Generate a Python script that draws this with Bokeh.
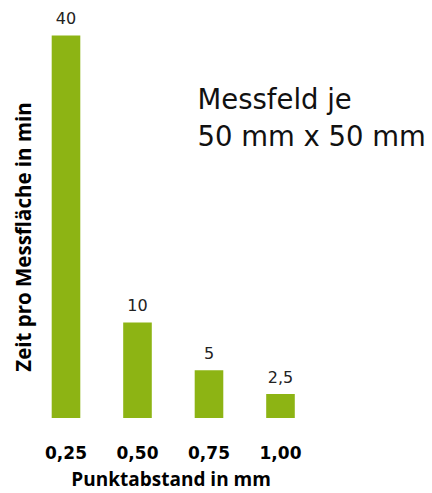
import math
from bokeh.plotting import figure
from bokeh.models import ColumnDataSource, Range1d, Label
from bokeh.core.properties import value
from bokeh.embed import file_html
from bokeh.resources import INLINE

# data
categories = ["0,25", "0,50", "0,75", "1,00"]
times = [40, 10, 5, 2.5]
value_labels = ["40", "10", "5", "2,5"]
note_lines = ["Messfeld je", "50 mm x 50 mm"]
x_title = "Punktabstand in mm"
y_title = "Zeit pro Messfläche in min"

positions = list(range(len(categories)))
src = ColumnDataSource(dict(x=positions, top=times, lab=value_labels,
                            cat=categories, base=[0] * len(categories)))

p = figure(width=432, height=493, output_backend="svg", toolbar_location=None,
           x_range=Range1d(-0.916, 5.126), y_range=Range1d(-7.895, 43.66),
           min_border=0)
p.outline_line_color = None
p.grid.visible = False
p.axis.visible = False

p.vbar(x="x", top="top", width=0.4, bottom=0, source=src,
       fill_color="#8DB414", line_color=None)

# value labels
p.text(x="x", y="top", text="lab", source=src, text_align="center",
       text_baseline="middle", y_offset=-17, text_font=value("DejaVu Sans"),
       text_font_size="16px", text_color="#222222")

# category (tick) labels
p.text(x="x", y="base", text="cat", source=src, text_align="center",
       text_baseline="middle", y_offset=34, text_font=value("DejaVu Sans"),
       text_font_style="bold", text_font_size="17px", text_color="#000000")

note_y = [33.38, 29.49]
for line, ny in zip(note_lines, note_y):
    p.add_layout(Label(x=1.839, y=ny, text=line, text_font="DejaVu Sans",
                       text_font_size="27.5px", text_color="#111111",
                       text_baseline="middle", text_align="left"))

p.add_layout(Label(x=1.47, y=-6.35, text=x_title, text_font="Open Sans",
                   text_font_style="bold", text_font_size="19px", text_color="#000000",
                   text_align="center", text_baseline="middle"))
p.add_layout(Label(x=-0.601, y=18.93, text=y_title, angle=math.pi / 2,
                   text_font="Open Sans", text_font_style="bold", text_font_size="20.5px",
                   text_color="#000000", text_align="center", text_baseline="middle"))

open("out.html", "w").write(file_html(p, INLINE))
